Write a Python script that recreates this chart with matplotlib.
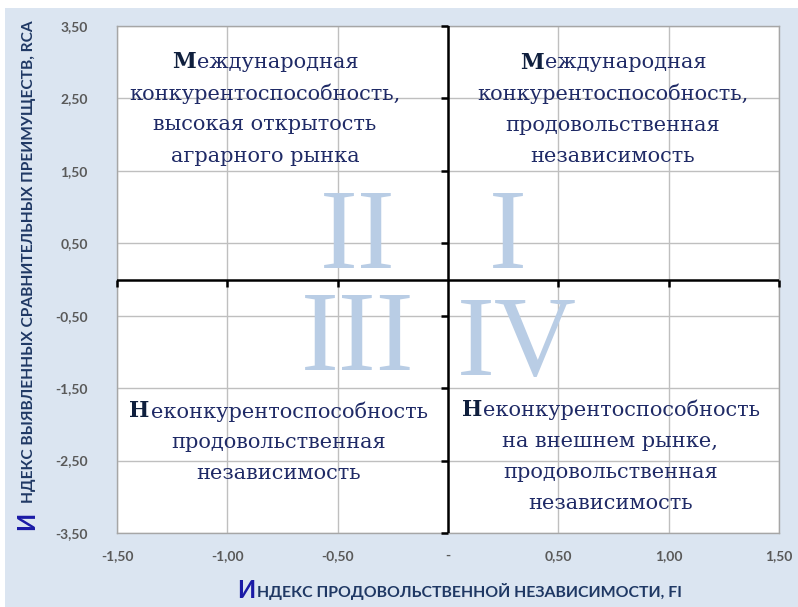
import numpy as np
import matplotlib.pyplot as plt
from matplotlib.patches import Rectangle

# axis ranges and tick values
x_ticks = [-1.5, -1.0, -0.5, 0.0, 0.5, 1.0, 1.5]
y_ticks = [3.5, 2.5, 1.5, 0.5, -0.5, -1.5, -2.5, -3.5]
x_labels = ["-1,50", "-1,00", "-0,50", "-", "0,50", "1,00", "1,50"]
y_labels = ["3,50", "2,50", "1,50", "0,50", "-0,50", "-1,50", "-2,50", "-3,50"]

# quadrant captions: (lines, x centre, y of first line); first letter is bold
quad_text = [
    (["Международная", "конкурентоспособность,", "высокая открытость", "аграрного рынка"], -0.83, 3.0),
    (["Международная", "конкурентоспособность,", "продовольственная", "независимость"], 0.745, 2.99),
    (["Неконкурентоспособность", "продовольственная", "независимость"], -0.77, -1.82),
    (["Неконкурентоспособность", "на внешнем рынке,", "продовольственная", "независимость"], 0.736, -1.80),
]
line_step = 0.432
roman = [("II", -0.41, 0.54), ("I", 0.27, 0.54), ("III", -0.41, -0.86), ("IV", 0.31, -0.93)]

navy = "#1f2a66"
dark = "#0f1f3d"
light_blue = "#b9cde5"
bg = "#dbe5f1"
qsize = 15

fig = plt.figure(figsize=(7.98, 6.07), dpi=100)
fig.patch.set_facecolor("white")
fig.patches.append(Rectangle((5 / 798, 0), 1, 1 - 8 / 607, transform=fig.transFigure,
                             facecolor=bg, edgecolor="none", zorder=-10))

ax = fig.add_axes([117 / 798, 1 - 533 / 607, (779 - 117) / 798, (533 - 26) / 607])
ax.set_xlim(-1.5, 1.5)
ax.set_ylim(-3.5, 3.5)
ax.set_facecolor("white")
for s in ax.spines.values():
    s.set_color("#a6a6a6")
    s.set_linewidth(1.0)

ax.set_xticks(x_ticks)
ax.set_xticklabels(x_labels)
ax.set_yticks(y_ticks)
ax.set_yticklabels(y_labels)
ax.tick_params(length=0, labelcolor="#595959", labelsize=10)
ax.tick_params(axis="x", pad=12)
ax.tick_params(axis="y", pad=21)
for lab in ax.get_xticklabels() + ax.get_yticklabels():
    lab.set_fontfamily("Lato")
    lab.set_fontweight("bold")
ax.grid(True, color="#bfbfbf", linewidth=1.0)
ax.set_axisbelow(True)

# central axes through zero
ax.axhline(0, color="black", linewidth=1.8, zorder=3)
ax.axvline(0, color="black", linewidth=1.8, zorder=3)
xt = [v for v in x_ticks if v != 0]
ax.plot(xt, np.zeros(len(xt)), linestyle="none", marker=3, markersize=5,
        markeredgewidth=1.8, color="black", zorder=3, clip_on=False)
ax.plot(np.zeros(len(y_ticks)), y_ticks, linestyle="none", marker=0, markersize=5,
        markeredgewidth=1.8, color="black", zorder=3, clip_on=False)

for txt, x, y in roman:
    ax.text(x, y, txt, fontsize=82, family="Liberation Serif", color=light_blue,
            ha="center", va="center", zorder=2)

renderer = fig.canvas.get_renderer()
for lines, x, y in quad_text:
    for i, line in enumerate(lines[1:], start=1):
        ax.text(x, y - i * line_step, line, fontsize=qsize, family="DejaVu Serif",
                color=navy, ha="center", va="center", zorder=4)
    # first line: bold capital + rest, centred as a group
    a = ax.text(0, 0, lines[0][0], fontsize=qsize + 0.5, family="DejaVu Serif",
                fontweight="bold", color=dark, va="center", ha="left", zorder=5)
    b = ax.text(0, 0, lines[0][1:], fontsize=qsize, family="DejaVu Serif",
                color=navy, va="center", ha="left", zorder=4)
    wa = a.get_window_extent(renderer).width
    wb = b.get_window_extent(renderer).width
    cx, cy = ax.transData.transform((x, y))
    x0 = cx - (wa + wb) / 2
    a.set_transform(None)
    b.set_transform(None)
    a.set_position((x0, cy))
    b.set_position((x0 + wa + 1, cy))

# axis titles
fig.text(237 / 798, 1 - 591 / 607, "И", fontsize=17, fontweight="bold", family="Lato",
         color="#1a1aa6", ha="left", va="center")
fig.text(257 / 798, 1 - 591 / 607, "НДЕКС ПРОДОВОЛЬСТВЕННОЙ НЕЗАВИСИМОСТИ, FI", fontsize=11.4,
         fontweight="bold", family="Lato", color="#1f3864", ha="left", va="center")
fig.text(27 / 798, 1 - 530 / 607, "И", fontsize=17, fontweight="bold", family="Lato",
         color="#1a1aa6", ha="center", va="bottom", rotation=90)
fig.text(29 / 798, 1 - 503 / 607, "НДЕКС ВЫЯВЛЕННЫХ СРАВНИТЕЛЬНЫХ ПРЕИМУЩЕСТВ, RCA", fontsize=11.2,
         fontweight="bold", family="Lato", color="#1f3864", ha="center", va="bottom", rotation=90)

fig.savefig("out.png", dpi=100, facecolor=fig.get_facecolor())
